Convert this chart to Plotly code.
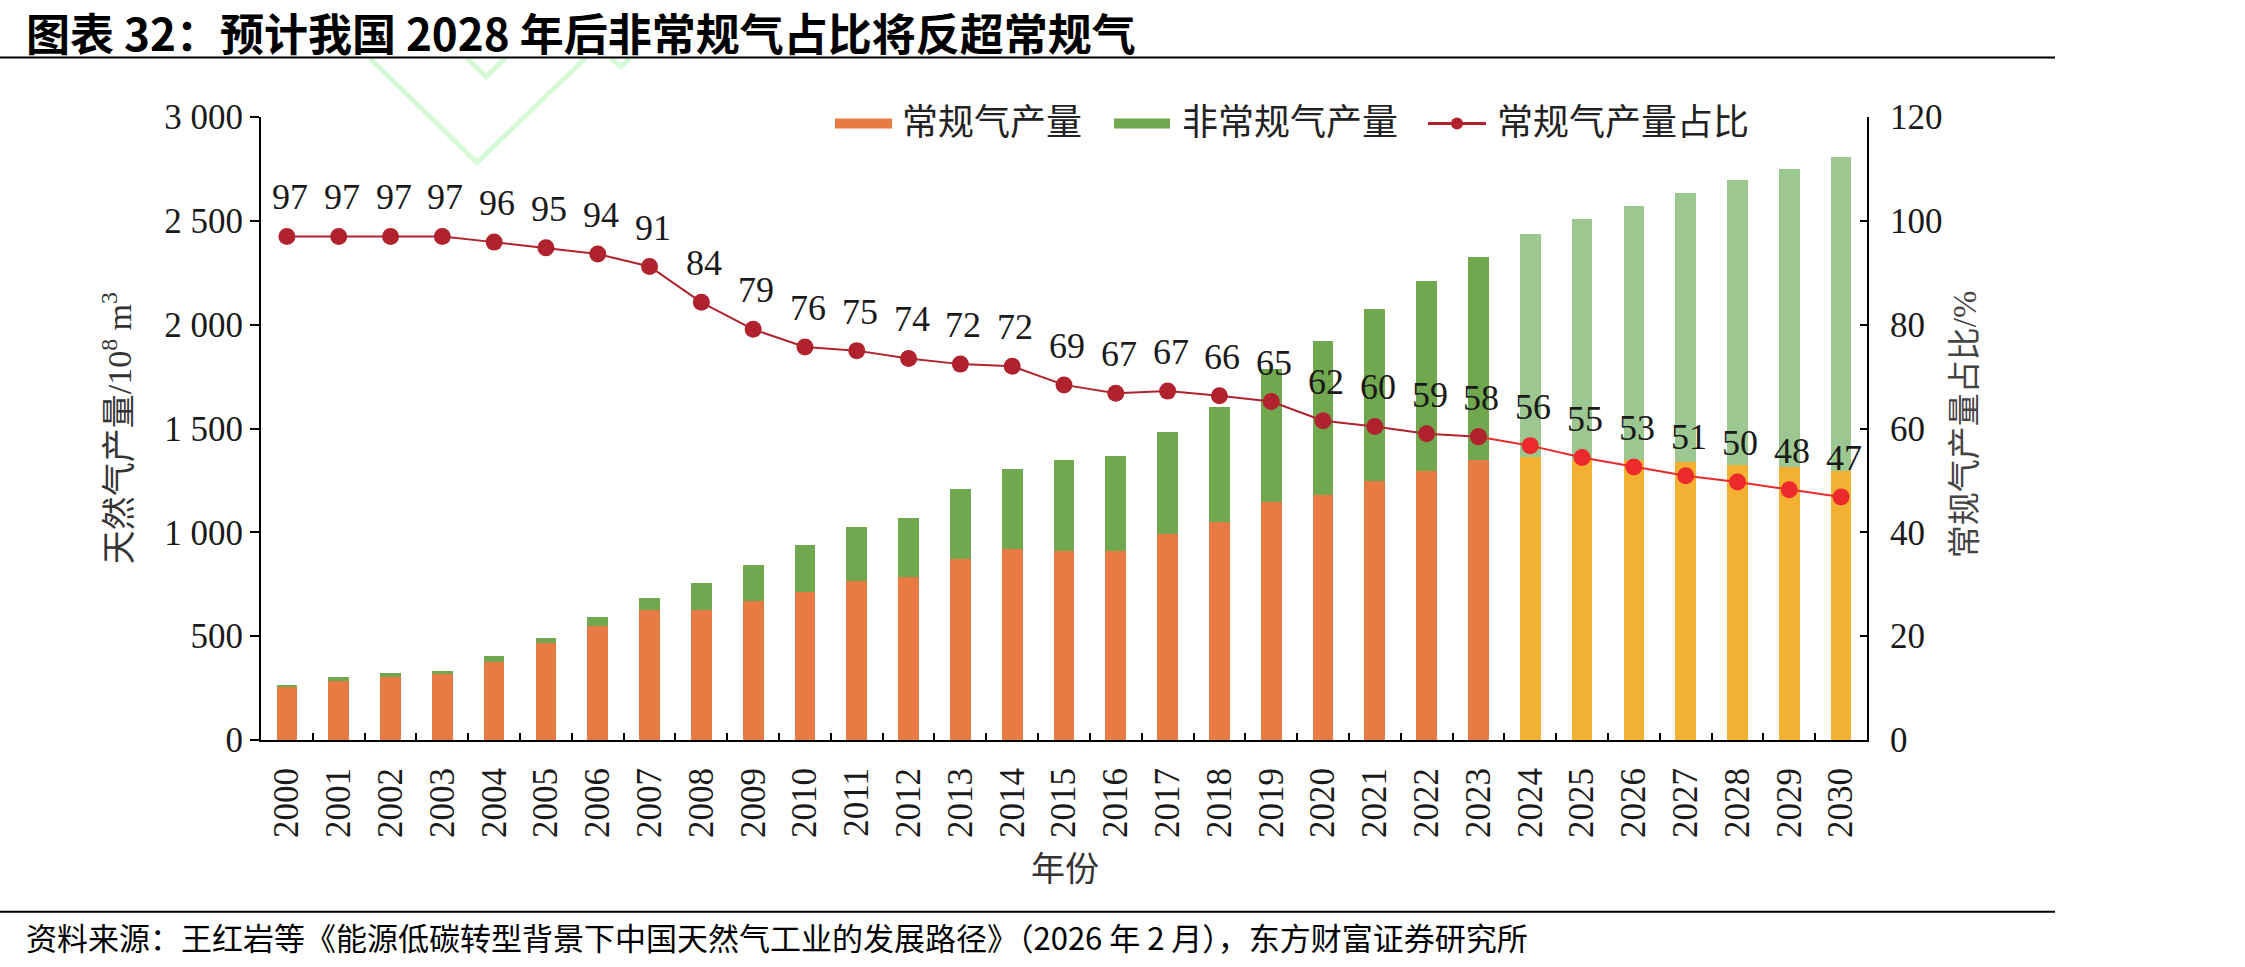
import plotly.graph_objects as go

years = [str(y) for y in range(2000, 2031)]
conventional = [255, 283, 303, 320, 377, 465, 551, 625, 625, 667, 711, 765, 785, 874, 922,
                911, 911, 990, 1048, 1145, 1179, 1245, 1297, 1348, 1365, 1350, 1348, 1338,
                1325, 1317, 1297]
unconventional = [11, 20, 22, 12, 29, 27, 39, 59, 131, 177, 228, 261, 285, 334, 382,
                  437, 458, 495, 555, 642, 743, 831, 912, 977, 1071, 1158, 1224, 1295,
                  1373, 1432, 1509]
share = [97.0, 97.0, 97.0, 97.0, 95.9, 94.8, 93.6, 91.2, 84.3, 79.1, 75.7, 75.0, 73.5,
         72.4, 72.0, 68.4, 66.8, 67.2, 66.3, 65.2, 61.5, 60.4, 59.0, 58.4, 56.7, 54.4,
         52.6, 50.9, 49.7, 48.2, 46.8]
share_labels = [97, 97, 97, 97, 96, 95, 94, 91, 84, 79, 76, 75, 74, 72, 72, 69, 67, 67,
                66, 65, 62, 60, 59, 58, 56, 55, 53, 51, 50, 48, 47]
forecast_start = "2024"

left_ticks = [0, 500, 1000, 1500, 2000, 2500, 3000]
left_ticktext = ["0", "500", "1 000", "1 500", "2 000", "2 500", "3 000"]
right_ticks = [0, 20, 40, 60, 80, 100, 120]

title_text = "图表 32：预计我国 2028 年后非常规气占比将反超常规气"
source_text = "资料来源：王红岩等《能源低碳转型背景下中国天然气工业的发展路径》（2026 年 2 月），东方财富证券研究所"
legend_names = ["常规气产量", "非常规气产量", "常规气产量占比"]

# colours
C_CONV = "#E77B43"
C_CONV_F = "#F3B134"
C_UNC = "#70A74F"
C_UNC_F = "#9DC790"
C_LINE = "#B0232E"
C_LINE_F = "#EC2A2B"

W, H = 2245, 967
L, R, T, B = 261, 1867, 116.5, 740

def px(x):
    return (x - L) / (R - L)

def py(y):
    return (B - y) / (B - T)

fi = years.index(forecast_start)
conv_colors = [C_CONV if i < fi else C_CONV_F for i in range(len(years))]
unc_colors = [C_UNC if i < fi else C_UNC_F for i in range(len(years))]

SERIF = "Liberation Serif, Times New Roman, Noto Sans CJK SC, serif"
CJK = "Noto Sans CJK SC, sans-serif"

fig = go.Figure()
fig.add_trace(go.Bar(x=years, y=conventional, name=legend_names[0],
                     marker=dict(color=conv_colors, line=dict(width=0)),
                     width=0.4, showlegend=False))
fig.add_trace(go.Bar(x=years, y=unconventional, name=legend_names[1],
                     marker=dict(color=unc_colors, line=dict(width=0)),
                     width=0.4, showlegend=False))

# forecast part of line (drawn first)
fx = years[fi - 1:]
fy = share[fi - 1:]
fig.add_trace(go.Scatter(x=fx, y=fy, yaxis="y2", mode="lines+markers",
                         line=dict(color=C_LINE_F, width=2),
                         marker=dict(size=17, color=[C_LINE] + [C_LINE_F] * (len(fx) - 1)),
                         showlegend=False, hoverinfo="skip"))
fig.add_trace(go.Scatter(x=years[:fi], y=share[:fi], yaxis="y2", mode="lines+markers",
                         name=legend_names[2],
                         line=dict(color=C_LINE, width=2),
                         marker=dict(size=17, color=C_LINE), showlegend=False))

annotations = []
for i, (y, t) in enumerate(zip(share, share_labels)):
    annotations.append(dict(x=i, y=y, xref="x", yref="y2", text=str(t), showarrow=False,
                            yanchor="middle", xanchor="center", yshift=39, xshift=3,
                            font=dict(family=SERIF, size=36, color="#1a1a1a")))

# axis titles
annotations.append(dict(x=px(117), y=py(428), xref="paper", yref="paper",
                        text="天然气产量/10<sup>8</sup> m<sup>3</sup>", textangle=-90,
                        showarrow=False, xanchor="center", yanchor="middle",
                        font=dict(family=SERIF, size=34, color="#333333")))
annotations.append(dict(x=px(1965), y=py(424), xref="paper", yref="paper",
                        text="常规气产量占比/%", textangle=-90,
                        showarrow=False, xanchor="center", yanchor="middle",
                        font=dict(family=SERIF, size=33, color="#444444")))
annotations.append(dict(x=px(1065), y=py(870), xref="paper", yref="paper",
                        text="年份", showarrow=False, xanchor="center", yanchor="middle",
                        font=dict(family=SERIF, size=34, color="#333333")))
# title and source
annotations.append(dict(x=px(24), y=py(31), xref="paper", yref="paper",
                        text="<b>" + title_text + "</b>", showarrow=False,
                        xanchor="left", yanchor="middle",
                        font=dict(family=CJK, size=44, color="#000000")))
annotations.append(dict(x=px(24), y=py(937), xref="paper", yref="paper",
                        text=source_text, showarrow=False,
                        xanchor="left", yanchor="middle",
                        font=dict(family=CJK, size=31, color="#000000")))

# manual legend
LY = 123
shapes = []
shapes.append(dict(type="rect", xref="paper", yref="paper", x0=px(835), x1=px(892),
                   y0=py(LY - 5), y1=py(LY + 5), fillcolor=C_CONV, line=dict(width=0)))
shapes.append(dict(type="rect", xref="paper", yref="paper", x0=px(1114), x1=px(1170),
                   y0=py(LY - 5), y1=py(LY + 5), fillcolor=C_UNC, line=dict(width=0)))
shapes.append(dict(type="line", xref="paper", yref="paper", x0=px(1428), x1=px(1486),
                   y0=py(LY), y1=py(LY), line=dict(color=C_LINE, width=3)))
shapes.append(dict(type="circle", xref="paper", yref="paper", x0=px(1451), x1=px(1463),
                   y0=py(LY - 6), y1=py(LY + 6), fillcolor=C_LINE, line=dict(width=0)))
for xl, name in zip([900, 1180, 1495], legend_names):
    annotations.append(dict(x=px(xl), y=py(LY), xref="paper", yref="paper", text=name,
                            showarrow=False, xanchor="left", yanchor="middle",
                            font=dict(family=SERIF, size=36, color="#222222")))

# rules under title and above source
shapes.append(dict(type="line", xref="paper", yref="paper", x0=px(0), x1=px(2055),
                   y0=py(57), y1=py(57), line=dict(color="#000000", width=2)))
shapes.append(dict(type="line", xref="paper", yref="paper", x0=px(0), x1=px(2055),
                   y0=py(912), y1=py(912), line=dict(color="#000000", width=2)))

# faint watermark chevrons
WM = "#D6F9D6"
for pts in [[(370, 58), (477, 162), (585, 58)],
            [(467, 58), (486, 76), (505, 58)],
            [(611, 58), (621, 66), (630, 58)]]:
    path = "M " + " L ".join(f"{px(a)},{py(b)}" for a, b in pts)
    shapes.append(dict(type="path", xref="paper", yref="paper", path=path,
                       line=dict(color=WM, width=5), layer="below"))

fig.update_layout(
    width=W, height=H,
    margin=dict(l=L, r=W - R, t=T, b=H - B, pad=0),
    paper_bgcolor="white", plot_bgcolor="white",
    barmode="stack", bargap=0.6,
    showlegend=False,
    font=dict(family=SERIF, size=34, color="#1a1a1a"),
    xaxis=dict(type="category", range=[-0.5, len(years) - 0.5],
               showline=True, linecolor="#000000", linewidth=2,
               ticks="inside", tickson="boundaries", ticklen=7, tickwidth=2,
               tickcolor="#000000", tickangle=-90, showgrid=False, zeroline=False,
               ticklabelstandoff=12,
               tickfont=dict(family=SERIF, size=35, color="#1a1a1a")),
    yaxis=dict(range=[0, 3000], tickvals=left_ticks, ticktext=left_ticktext,
               showline=True, linecolor="#000000", linewidth=2,
               ticks="outside", ticklen=9, tickwidth=2, tickcolor="#000000",
               showgrid=False, zeroline=False,
               tickfont=dict(family=SERIF, size=35, color="#1a1a1a")),
    yaxis2=dict(range=[0, 120], tickvals=right_ticks, overlaying="y", side="right",
                showline=True, linecolor="#000000", linewidth=2,
                ticks="inside", ticklen=7, tickwidth=2, tickcolor="#000000",
                showgrid=False, zeroline=False, ticklabelstandoff=14,
                tickfont=dict(family=SERIF, size=35, color="#1a1a1a")),
    annotations=annotations,
    shapes=shapes,
)

fig.write_html("out.html")
